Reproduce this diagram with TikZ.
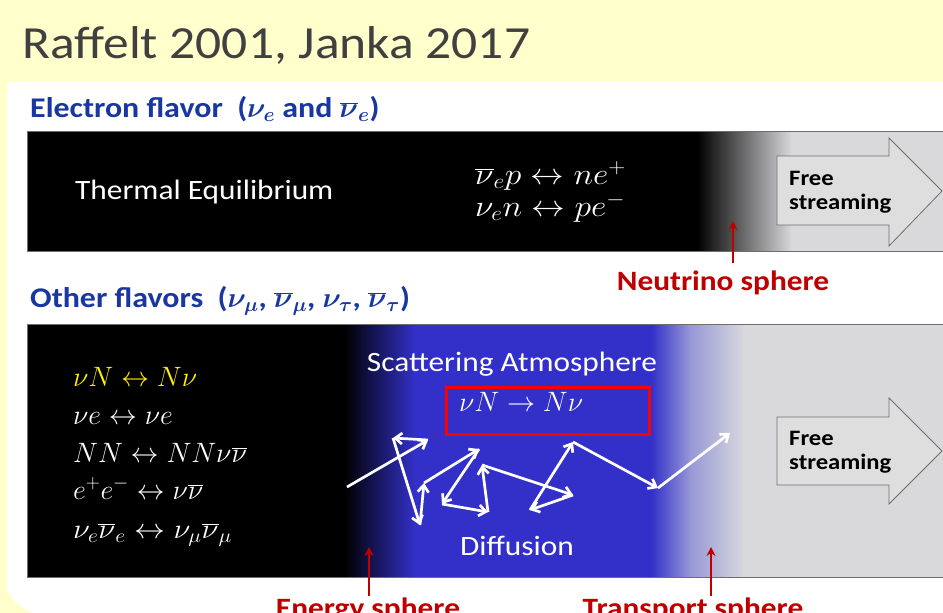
\RequirePackage{fix-cm}
\documentclass[tikz,border=0pt]{standalone}
\usepackage{fontspec}
\setmainfont{Carlito}[FakeStretch=1.12]
\usepackage{bm}
\usetikzlibrary{arrows.meta}
\definecolor{bgyellow}{RGB}{255,255,204}
\definecolor{hdrblue}{RGB}{25,55,160}
\definecolor{sphred}{RGB}{192,0,0}
\definecolor{bandgray}{RGB}{217,217,220}
\definecolor{atmblue}{RGB}{50,48,200}
\definecolor{lav}{RGB}{150,150,215}
\definecolor{titlegray}{RGB}{64,64,64}
\definecolor{arrowfill}{RGB}{222,222,222}
\definecolor{edgegray}{RGB}{110,110,110}
\tikzset{
  hdr/.style={anchor=base west, inner sep=0, text=hdrblue, font=\fontsize{28.5}{31}\selectfont\bfseries},
  body/.style={inner sep=0, text=white, font=\fontsize{28}{32}\selectfont},
  eqn/.style={anchor=base west, inner sep=0, text=white, font=\fontsize{28}{32}\selectfont},
  sphlabel/.style={anchor=base, inner sep=0, text=sphred, font=\fontsize{28}{32}\selectfont\bfseries},
  spharrow/.style={draw=sphred, line width=2.5pt, -{Stealth[length=9pt,width=9pt]}},
  walk/.style={draw=white, line width=2.7pt, -{Straight Barb[length=7pt,width=11pt,line width=2.7pt]}},
  blockarrow/.style={draw=edgegray, fill=arrowfill, line width=0.8pt},
  fstext/.style={anchor=base west, inner sep=0, align=left, text=black, font=\fontsize{22}{24}\selectfont\bfseries},
  bandedge/.style={draw=edgegray, line width=1pt}
}
\begin{document}
\begin{tikzpicture}[x=1pt,y=-1pt]
\useasboundingbox (0,0) rectangle (943,613);
\clip (0,0) rectangle (943,613);
\fill[bgyellow] (0,0) rectangle (943,613);
\fill[white] (7,82) -- (944,82) -- (944,614) -- (34,614) .. controls (18,606) .. (7,590) -- cycle;

% title
\node[anchor=base west, inner sep=0, text=titlegray, font=\fontsize{46}{50}\selectfont] (title) at (22,58) {Raffelt 2001, Janka 2017};

% ---------- electron flavor band
\node[hdr] (hdr1) at (30,117) {Electron flavor\ \ ($\bm{\nu_e}$ and $\bm{\overline{\nu}_e}$)};
\fill[black] (27,131) rectangle (698,251);
\shade[left color=black, right color=bandgray] (697,131) rectangle (792,251);
\fill[bandgray] (791,131) rectangle (944,251);
\draw[bandedge] (27,131) rectangle (946,251);

\node[body, anchor=base west] (therm) at (75,199) {Thermal Equilibrium};
\node[eqn, font=\fontsize{30}{34}\selectfont] (eqA) at (475,184) {\scalebox{1.12}[1]{$\overline{\nu}_e p \leftrightarrow n e^{+}$}};
\node[eqn, font=\fontsize{30}{34}\selectfont] (eqB) at (475,216) {\scalebox{1.12}[1]{$\nu_e n \leftrightarrow p e^{-}$}};

\draw[blockarrow] (777,156) -- (889,156) -- (889,138) -- (942,191) -- (889,246) -- (889,225) -- (777,225) -- cycle;
\node[fstext] (fs1) at (789,209) {Free\\streaming};

\coordinate (nsfoot) at (733,263);
\coordinate (nstip) at (733,221);
\draw[spharrow] (nsfoot) -- (nstip);
\node[sphlabel] (nslab) at (723,290) {Neutrino sphere};

% ---------- other flavors band
\node[hdr] (hdr2) at (30,307) {Other flavors\ \ ($\bm{\nu_\mu}$, $\bm{\overline{\nu}_\mu}$, $\bm{\nu_\tau}$, $\bm{\overline{\nu}_\tau}$)};
\fill[black] (27,324) rectangle (345,577);
\shade[left color=black, right color=atmblue] (344,324) rectangle (415,577);
\fill[atmblue] (414,324) rectangle (652,577);
\shade[left color=atmblue, right color=lav] (651,324) rectangle (690,577);
\shade[left color=lav, right color=bandgray] (689,324) rectangle (745,577);
\fill[bandgray] (744,324) rectangle (944,577);
\draw[bandedge] (27,324) rectangle (946,577);

\node[eqn, text=yellow] (l1) at (73,386) {$\nu N \leftrightarrow N\nu$};
\node[eqn] (l2) at (73,424) {$\nu e \leftrightarrow \nu e$};
\node[eqn] (l3) at (73,462) {$NN \leftrightarrow NN\nu\overline{\nu}$};
\node[eqn] (l4) at (73,499) {$e^{+}e^{-} \leftrightarrow \nu\overline{\nu}$};
\node[eqn] (l5) at (73,538) {\scalebox{1.1}[1]{$\nu_e\overline{\nu}_e \leftrightarrow \nu_\mu\overline{\nu}_\mu$}};

\node[body, anchor=base] (scat) at (512,371) {Scattering Atmosphere};
\node[draw=red, line width=3pt, minimum width=203pt, minimum height=47pt, inner sep=0] (redbox) at (547.5,410.5) {};
\node[eqn] (rbeq) at (459,411) {$\nu N \rightarrow N\nu$};
\node[body, anchor=base] (diff) at (517,555) {Diffusion};

% random walk
\coordinate (w0) at (347,487);
\coordinate (w1) at (428,440);
\coordinate (w2) at (393,438);
\coordinate (w3) at (420,525);
\coordinate (w4) at (424,483);
\coordinate (w5) at (479,449);
\coordinate (w6) at (442,504);
\coordinate (w7) at (488,512);
\coordinate (w8) at (482,465);
\coordinate (w9) at (573,495);
\coordinate (w10) at (530,510);
\coordinate (w11) at (573,442);
\coordinate (w12) at (658,488);
\coordinate (w13) at (730,433);
\draw[walk] (w0) -- (w1);
\draw[walk] (w1) -- (w2);
\draw[walk] (w2) -- (w3);
\draw[walk] (w3) -- (w4);
\draw[walk] (w4) -- (w5);
\draw[walk] (w5) -- (w6);
\draw[walk] (w6) -- (w7);
\draw[walk] (w7) -- (w8);
\draw[walk] (w8) -- (w9);
\draw[walk] (w9) -- (w10);
\draw[walk] (w10) -- (w11);
\draw[walk] (w11) -- (w12);
\draw[walk] (w12) -- (w13);

\draw[blockarrow] (777,417) -- (889,417) -- (889,398) -- (942,451) -- (889,504) -- (889,485) -- (777,485) -- cycle;
\node[fstext] (fs2) at (789,469) {Free\\streaming};

\coordinate (esfoot) at (369,596);
\coordinate (estip) at (369,547);
\draw[spharrow] (esfoot) -- (estip);
\node[sphlabel] (eslab) at (368,617) {Energy sphere};

\coordinate (tsfoot) at (711,596);
\coordinate (tstip) at (711,547);
\draw[spharrow] (tsfoot) -- (tstip);
\node[sphlabel] (tslab) at (693,617) {Transport sphere};
\end{tikzpicture}
\end{document}
